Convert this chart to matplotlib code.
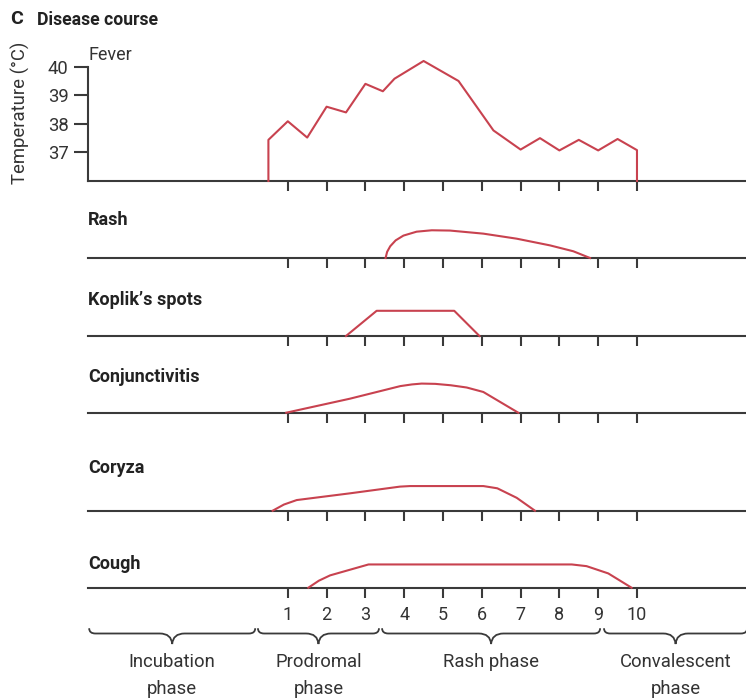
import numpy as np
import matplotlib.pyplot as plt
from matplotlib.path import Path
from matplotlib.patches import PathPatch

plt.rcParams['font.family'] = ['Roboto', 'DejaVu Sans']

TEXT = '#333333'
LINE = '#3a3a3a'
RED = '#c8424f'
W, H = 746, 698
X_MIN, X_MAX = -4.15, 12.81

days = list(range(1, 11))

# fever curve (day, temperature in degC)
fever_day = [0.5, 0.5, 1.0, 1.5, 2.0, 2.5, 3.0, 3.45, 3.75, 4.5, 5.4, 6.3,
             7.0, 7.5, 8.0, 8.5, 9.0, 9.5, 10.0, 10.0]
fever_temp = [36.0, 37.44, 38.09, 37.52, 38.6, 38.4, 39.4, 39.14, 39.58,
              40.2, 39.5, 37.77, 37.1, 37.5, 37.07, 37.44, 37.07, 37.47,
              37.08, 36.0]
temp_ticks = [37, 38, 39, 40]

# symptoms: relative intensity over days
symptom_names = ['Rash', 'Koplik\u2019s spots', 'Conjunctivitis', 'Coryza', 'Cough']
rash_day = [3.52, 3.56, 3.64, 3.78, 3.98, 4.32, 4.71, 5.18, 6.04, 6.9, 7.76, 8.36, 8.79]
rash_level = [0, 0.22, 0.42, 0.63, 0.8, 0.94, 0.99, 0.98, 0.87, 0.69, 0.45, 0.24, 0]
koplik_day = [2.5, 3.29, 5.29, 5.94]
koplik_level = [0, 0.9, 0.9, 0]
conj_day = [0.96, 2.6, 3.9, 4.2, 4.45, 4.8, 5.2, 5.61, 6.04, 6.94]
conj_level = [0, 0.5, 0.95, 1.01, 1.04, 1.03, 0.98, 0.9, 0.74, 0]
coryza_day = [0.61, 0.9, 1.23, 2.6, 3.89, 4.15, 6.04, 6.4, 6.9, 7.37]
coryza_level = [0, 0.22, 0.38, 0.62, 0.86, 0.88, 0.88, 0.8, 0.46, 0]
cough_day = [1.53, 1.8, 2.09, 3.08, 8.32, 8.7, 9.26, 9.86]
cough_level = [0, 0.25, 0.44, 0.83, 0.83, 0.77, 0.51, 0]

phase_names = ['Incubation\nphase', 'Prodromal\nphase', 'Rash phase',
               'Convalescent\nphase']
phase_start = [-4.12, 0.23, 3.43, 9.15]
phase_end = [0.16, 3.35, 9.05, 12.84]


def px_axes(fig, left, top, right, bottom):
    return fig.add_axes([left / W, 1 - bottom / H, (right - left) / W,
                         (bottom - top) / H])


def style_day_axis(ax, labels=False):
    ax.set_xlim(X_MIN, X_MAX)
    for side in ['top', 'right']:
        ax.spines[side].set_visible(False)
    ax.spines['bottom'].set_color(LINE)
    ax.spines['bottom'].set_linewidth(1.5)
    ax.set_xticks(days)
    ax.tick_params(axis='x', direction='out', length=7.5, width=1.5,
                   color=LINE, labelcolor=TEXT, labelsize=13, pad=6,
                   labelbottom=labels)
    if not labels:
        ax.set_xticklabels([])


def draw_brace(ax, x0, x1):
    xm = (x0 + x1) / 2
    r = 0.16
    r2 = 0.32
    mid = 0.7
    verts = [(x0, 1.05), (x0, mid), (x0 + r, mid),
             (xm - r2, mid),
             (xm - 0.02, mid), (xm, 0.0),
             (xm + 0.02, mid), (xm + r2, mid),
             (x1 - r, mid),
             (x1, mid), (x1, 1.05)]
    codes = [Path.MOVETO, Path.CURVE3, Path.CURVE3,
             Path.LINETO,
             Path.CURVE3, Path.CURVE3,
             Path.CURVE3, Path.CURVE3,
             Path.LINETO,
             Path.CURVE3, Path.CURVE3]
    ax.add_patch(PathPatch(Path(verts, codes), facecolor='none',
                           edgecolor=LINE, linewidth=1.3, clip_on=False))
    return xm


def main():
    fig = plt.figure(figsize=(W / 100, H / 100), dpi=100)

    fig.text(10 / W, 1 - 19 / H, 'C', fontsize=14, fontweight='bold',
             color='#222222', va='center')
    fig.text(37 / W, 1 - 20 / H, 'Disease course', fontsize=12.7,
             fontweight='bold', color='#222222', va='center')
    fig.text(20 / W, 1 - 113 / H, 'Temperature (\u00b0C)', fontsize=13.3,
             color=TEXT, rotation=90, ha='center', va='center')

    # fever panel
    ax = px_axes(fig, 88, 66.7, W, 181)
    style_day_axis(ax)
    ax.set_ylim(36, 40)
    ax.spines['left'].set_color(LINE)
    ax.spines['left'].set_linewidth(1.5)
    ax.set_yticks(temp_ticks)
    ax.tick_params(axis='y', direction='out', length=10, width=1.5,
                   color=LINE, labelcolor=TEXT, labelsize=13.3, pad=4)
    ax.plot(fever_day, fever_temp, color=RED, linewidth=1.5, clip_on=False,
            zorder=3)
    ax.annotate('Fever', xy=(0, 1), xycoords='axes fraction',
                xytext=(1, 12), textcoords='offset pixels', fontsize=13,
                color=TEXT, va='center')

    # symptom panels
    baselines = [258, 336, 412.7, 510.7, 587.7]
    label_gap = [38, 36, 36, 43, 24]
    series = [(rash_day, rash_level), (koplik_day, koplik_level),
              (conj_day, conj_level), (coryza_day, coryza_level),
              (cough_day, cough_level)]
    unit = 28.0
    for i, name in enumerate(symptom_names):
        base = baselines[i]
        ax = px_axes(fig, 88, base - 36, W, base)
        style_day_axis(ax, labels=(i == len(symptom_names) - 1))
        ax.spines['left'].set_visible(False)
        ax.set_yticks([])
        ax.set_ylim(0, 36 / unit)
        d, lv = series[i]
        ax.plot(d, lv, color=RED, linewidth=1.5, clip_on=False, zorder=3)
        ax.annotate(name, xy=(0, 0), xycoords='axes fraction',
                    xytext=(0, label_gap[i]), textcoords='offset pixels',
                    fontsize=13, fontweight='bold', color='#222222',
                    va='center')

    # phase braces
    ax = px_axes(fig, 88, 629, W, 644)
    ax.set_xlim(X_MIN, X_MAX)
    ax.set_ylim(0, 1)
    ax.axis('off')
    for name, x0, x1 in zip(phase_names, phase_start, phase_end):
        xm = draw_brace(ax, x0, x1)
        ax.annotate(name, xy=(xm, 0), xytext=(0, -9),
                    textcoords='offset pixels', ha='center', va='top',
                    fontsize=13.3, color=TEXT, linespacing=1.65,
                    annotation_clip=False)

    fig.savefig('out.png', dpi=100)


if __name__ == "__main__":
    main()
